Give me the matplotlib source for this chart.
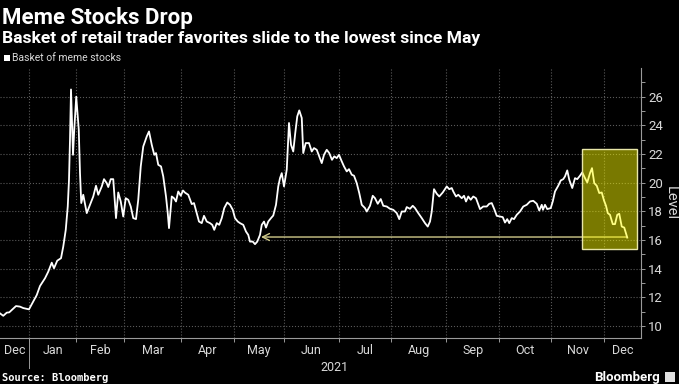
import numpy as np
import matplotlib
matplotlib.use("Agg")
import matplotlib.pyplot as plt
from matplotlib.patches import Rectangle
from matplotlib.transforms import blended_transform_factory

plt.rcParams['font.family'] = ['Roboto', 'DejaVu Sans']

# Data: basket level by trading session (0 = first session of 2021)
session = [
    -11.6, -10.3, -8.9, -7.9, -6.9, -5.2, -3.6, -2.3, 0.0, 1.7,
    3.1, 4.4, 6.4, 7.7, 9.1, 10.0, 11.3, 12.8, 13.7, 14.7,
    15.5, 16.0, 16.4, 16.8, 17.6, 18.1, 18.9, 19.9, 20.4, 20.9,
    21.7, 23.1, 24.4, 25.7, 26.8, 27.7, 29.1, 30.0, 31.1, 31.7,
    32.7, 33.7, 34.8, 35.7, 36.7, 37.7, 38.7, 39.7, 40.7, 41.7,
    42.8, 43.7, 44.7, 45.7, 47.1, 48.0, 49.1, 50.1, 50.8, 51.7,
    52.8, 53.7, 54.8, 55.5, 56.0, 57.1, 58.0, 58.8, 59.7, 60.7,
    61.6, 62.4, 63.7, 65.1, 66.0, 67.1, 68.0, 69.1, 70.0, 71.1,
    72.4, 73.3, 74.1, 75.1, 76.1, 77.1, 78.1, 79.3, 80.4, 81.5,
    82.4, 83.5, 84.4, 85.7, 86.8, 87.7, 88.4, 89.5, 90.4, 91.3,
    92.4, 93.1, 94.0, 94.8, 95.7, 96.8, 97.7, 98.8, 99.7, 100.4,
    101.1, 102.0, 103.1, 104.0, 104.8, 105.7, 106.5, 107.3, 108.1, 109.1,
    109.7, 110.7, 112.0, 113.1, 114.0, 115.1, 116.1, 117.1, 118.0, 119.1,
    120.1, 121.2, 122.1, 123.1, 124.0, 125.1, 126.0, 127.1, 128.0, 129.1,
    130.0, 131.1, 132.1, 133.1, 134.4, 135.1, 136.4, 137.5, 138.4, 139.5,
    140.7, 141.7, 143.1, 144.4, 145.7, 147.1, 148.1, 149.1, 150.4, 151.1,
    152.4, 153.5, 154.4, 155.7, 157.1, 158.4, 159.5, 160.4, 161.1, 162.0,
    163.1, 164.1, 165.5, 167.1, 168.1, 169.1, 169.7, 170.8, 171.7, 173.1,
    174.0, 174.8, 175.7, 176.7, 177.7, 178.8, 180.4, 181.7, 183.1, 184.1,
    185.1, 186.1, 187.1, 188.4, 189.5, 190.4, 191.3, 192.1, 193.1, 194.0,
    195.1, 196.4, 197.7, 199.1, 200.4, 201.7, 203.1, 204.1, 205.1, 205.6,
    206.4, 207.3, 208.7, 209.5, 210.4, 211.7, 212.7, 213.7, 214.4, 215.3,
    216.1, 217.3, 218.4, 219.3, 220.4, 221.3, 222.4, 223.3, 224.4, 225.2,
    226.1, 227.1, 228.1, 229.1, 230.0, 230.8, 231.5, 232.4, 233.5, 234.4,
    235.3, 236.1, 237.1, 238.1, 239.3,
]
level = [
    10.87, 10.70, 10.92, 10.94, 11.10, 11.38, 11.34, 11.24, 11.15, 11.69,
    12.15, 12.78, 13.32, 13.78, 14.41, 14.02, 14.55, 14.72, 15.53, 16.70,
    18.33, 20.20, 23.00, 26.50, 21.94, 23.70, 26.00, 23.70, 20.66, 18.57,
    19.15, 17.87, 18.45, 19.03, 19.78, 19.15, 19.73, 20.24, 19.96, 19.69,
    20.24, 20.24, 17.52, 19.31, 18.68, 17.63, 18.91, 18.80, 18.33, 17.52,
    17.45, 18.80, 21.13, 22.52, 23.22, 23.57, 22.64, 21.94, 22.06, 21.24,
    21.13, 20.43, 19.03, 17.87, 16.82, 19.03, 18.91, 18.68, 19.38, 19.08,
    19.45, 19.30, 19.15, 18.50, 18.57, 17.87, 17.28, 17.17, 17.68, 17.28,
    17.17, 17.05, 16.70, 17.17, 17.05, 17.52, 18.22, 18.61, 18.45, 18.10,
    17.52, 17.28, 17.17, 17.05, 16.58, 16.35, 15.88, 15.88, 15.70, 15.88,
    16.35, 17.05, 17.28, 16.86, 17.28, 17.52, 17.70, 18.45, 19.73, 20.31,
    20.66, 19.73, 20.90, 24.16, 22.64, 22.17, 23.46, 24.62, 25.04, 24.51,
    22.06, 22.76, 22.76, 22.17, 22.41, 22.29, 21.83, 21.36, 21.94, 22.29,
    22.06, 21.59, 21.83, 21.71, 21.94, 21.48, 21.13, 20.78, 20.94, 20.55,
    20.48, 19.96, 19.27, 18.45, 18.22, 17.98, 18.38, 19.08, 18.91, 18.52,
    18.85, 18.38, 18.33, 18.17, 18.10, 17.87, 17.45, 17.98, 17.98, 18.29,
    18.17, 18.38, 18.22, 17.87, 17.52, 17.17, 16.93, 17.28, 17.98, 19.54,
    19.22, 19.03, 19.31, 19.73, 19.54, 19.62, 19.38, 19.03, 19.15, 18.91,
    19.08, 18.68, 19.03, 18.80, 19.03, 18.91, 18.15, 18.33, 18.33, 18.52,
    18.57, 18.15, 17.68, 17.63, 17.59, 17.21, 17.45, 17.17, 17.52, 17.45,
    17.75, 17.98, 18.33, 18.45, 18.68, 18.73, 18.52, 18.05, 18.45, 18.10,
    18.45, 18.15, 18.22, 18.68, 19.38, 19.78, 20.15, 20.24, 20.43, 20.85,
    20.20, 19.62, 20.31, 20.24, 20.48, 20.71, 20.31, 20.01, 20.66, 21.01,
    19.96, 19.78, 19.27, 19.31, 18.75, 18.38, 17.87, 17.75, 17.10, 17.10,
    17.75, 17.82, 16.93, 16.86, 16.16,
]

# month boundaries -> trading sessions
month_starts = ['2020-12-01', '2021-01-01', '2021-02-01', '2021-03-01', '2021-04-01',
                '2021-05-01', '2021-06-01', '2021-07-01', '2021-08-01', '2021-09-01',
                '2021-10-01', '2021-11-01', '2021-12-01', '2022-01-01']
month_labels = ['Dec', 'Jan', 'Feb', 'Mar', 'Apr', 'May', 'Jun',
                'Jul', 'Aug', 'Sep', 'Oct', 'Nov', 'Dec']
holidays = ['2020-12-25', '2021-01-01', '2021-01-18', '2021-02-15', '2021-04-02',
            '2021-05-31', '2021-07-05', '2021-09-06', '2021-11-25', '2021-12-24']

may_low = 16.2       # reference line level
box_range = (221.2, 243.4, 15.35, 22.35)

bounds = np.array([np.busday_count('2021-01-01', d, holidays=holidays) for d in month_starts], dtype=float)

BG = '#000000'
GRID = '#5a5a5a'
TXT = '#d9d9d9'

fig = plt.figure(figsize=(6.79, 3.84), dpi=100, facecolor=BG)
ax = fig.add_axes([0.0, 1 - 338 / 384, 641 / 679, (338 - 68) / 384])
ax.set_facecolor(BG)

x0, x1 = session[0], 244.8
ax.set_xlim(x0, x1)
ax.set_ylim(9.15, 28.0)

# line
ax.plot(session, level, color='white', lw=1.3, zorder=3)

# reference line with arrow back to May low
ax.annotate('', xy=(92.8, may_low), xytext=(session[-1], may_low),
            arrowprops=dict(arrowstyle='->,head_length=0.5,head_width=0.25',
                            color='#cfc98a', lw=1.0, shrinkA=0, shrinkB=0), zorder=2)

# highlight box
bx0, bx1, by0, by1 = box_range
ax.add_patch(Rectangle((bx0, by0), bx1 - bx0, by1 - by0, facecolor='#ffff00', alpha=0.48,
                       edgecolor='none', zorder=4))
ax.add_patch(Rectangle((bx0, by0), bx1 - bx0, by1 - by0, facecolor='none',
                       edgecolor='#e8e6a8', lw=1.0, zorder=5))

# axes styling
for s in ['top', 'left']:
    ax.spines[s].set_visible(False)
for s in ['right', 'bottom']:
    ax.spines[s].set_color('#9a9a9a')
    ax.spines[s].set_linewidth(0.8)

ax.yaxis.tick_right()
ax.set_yticks(np.arange(10, 27, 2))
ax.set_yticks(np.arange(11, 28, 2), minor=True)
ax.tick_params(axis='y', which='both', colors='#9a9a9a', labelcolor=TXT, labelsize=9.5,
               length=3, width=0.7, pad=2)
ax.yaxis.set_label_position('right')
ax.set_ylabel('Level', color=TXT, fontsize=10.5, rotation=270, ha='center', va='center')
ax.yaxis.set_label_coords(671 / 641, 0.5)

inner = bounds[(bounds > x0) & (bounds < x1)]
ax.set_xticks(inner)
ax.set_xticklabels([])
mids = [(max(a, x0) + min(b, x1)) / 2 for a, b in zip(bounds[:-1], bounds[1:])]
ax.set_xticks(mids, minor=True)
ax.set_xticklabels(month_labels, minor=True)
ax.tick_params(axis='x', which='major', colors='#9a9a9a', length=3, width=0.7)
ax.tick_params(axis='x', which='minor', length=0, labelcolor=TXT, labelsize=9, pad=4)

ax.grid(True, which='major', color=GRID, linestyle=':', linewidth=0.8)
ax.set_axisbelow(True)

# year separator and label
trans = blended_transform_factory(ax.transData, ax.transAxes)
ax.plot([bounds[1], bounds[1]], [0, -0.11], color='#9a9a9a', lw=0.7, transform=trans, clip_on=False)
ax.text((bounds[1] + x1) / 2, -0.085, '2021', transform=trans, ha='center', va='top',
        color=TXT, fontsize=9)

# titles
fig.text(2 / 679, 1 - 24 / 384, 'Meme Stocks Drop', color='white', fontsize=16,
         fontweight='bold', va='baseline', ha='left')
fig.text(2 / 679, 1 - 43 / 384, 'Basket of retail trader favorites slide to the lowest since May',
         color='white', fontsize=12.6, fontweight='bold', va='baseline', ha='left')

# legend
fig.patches.append(Rectangle((4 / 679, 1 - 61 / 384), 6 / 679, 6 / 384, facecolor='white',
                             edgecolor='none', transform=fig.transFigure, figure=fig))
fig.text(12 / 679, 1 - 61 / 384, 'Basket of meme stocks', color=TXT, fontsize=7.5,
         va='baseline', ha='left')

# footer
fig.text(2 / 679, 1 - 381 / 384, 'Source: Bloomberg', color='white', fontsize=7.5,
         fontweight='bold', family='DejaVu Sans Mono', va='baseline', ha='left')
fig.text(660 / 679, 1 - 381 / 384, 'Bloomberg', color='white', fontsize=9.5,
         fontweight='bold', va='baseline', ha='right')
fig.patches.append(Rectangle((665 / 679, 1 - 382 / 384), 10 / 679, 10 / 384, facecolor='#e0e0e0',
                             edgecolor='none', transform=fig.transFigure, figure=fig))

fig.savefig('out.png', dpi=100, facecolor=BG)
